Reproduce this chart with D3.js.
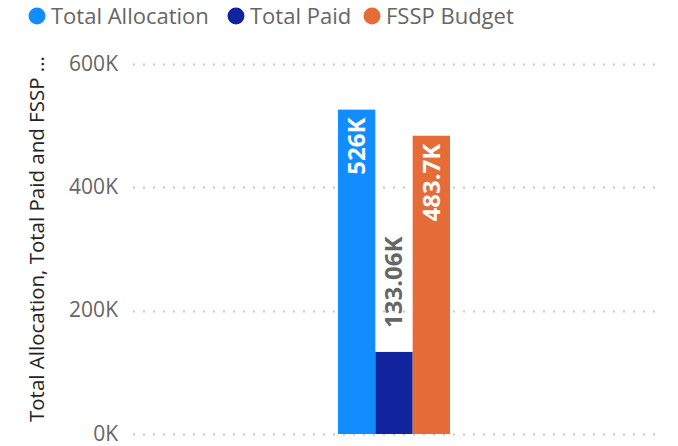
<!DOCTYPE html>
<html>
<head>
<meta charset="utf-8">
<script src="https://cdn.jsdelivr.net/npm/d3@7"></script>
<style>
  body { margin: 0; background: #fff; }
  svg { font-family: "Segoe UI", "Open Sans", sans-serif; }
</style>
</head>
<body>
<div class="chart"></div>
<script>
var categories = [""];
var seriesNames = ["Total Allocation", "Total Paid", "FSSP Budget"];
var seriesValues = [526000, 133060, 483700];
var dataLabels = ["526K", "133.06K", "483.7K"];
var tickValues = [0, 200000, 400000, 600000];
var tickLabels = ["0K", "200K", "400K", "600K"];
var colors = ["#118dff", "#12239e", "#e66c37"];

var width = 678, height = 446;
var margin = {top: 64, right: 23, bottom: 12, left: 133};

var svg = d3.select(".chart").append("svg")
    .attr("width", width)
    .attr("height", height);

// legend
var legendX = [37, 236, 372];
var legend = svg.selectAll(".legend")
    .data(seriesNames)
    .enter().append("g")
      .attr("class", "legend")
      .attr("transform", function(d, i) { return "translate(" + legendX[i] + ",16)"; });
legend.append("circle")
    .attr("r", 8.5)
    .attr("fill", function(d, i) { return colors[i]; });
legend.append("text")
    .attr("x", 14)
    .attr("dy", "0.35em")
    .attr("fill", "#666")
    .style("font-size", "22px")
    .text(function(d) { return d; });

var y = d3.scaleLinear()
    .domain([0, 600000])
    .range([height - margin.bottom, margin.top]);

var x0 = d3.scaleBand()
    .domain(categories)
    .range([margin.left, width - margin.right])
    .paddingOuter(1.83);

var x1 = d3.scaleBand()
    .domain(seriesNames)
    .range([0, x0.bandwidth()]);

// gridlines
svg.selectAll(".grid")
    .data(tickValues)
    .enter().append("line")
      .attr("class", "grid")
      .attr("x1", margin.left)
      .attr("x2", width - margin.right)
      .attr("y1", function(d) { return Math.round(y(d)) + 0.5; })
      .attr("y2", function(d) { return Math.round(y(d)) + 0.5; })
      .attr("stroke", "#c8c8c8")
      .attr("stroke-width", 2)
      .attr("stroke-dasharray", "2,8");

// y axis tick labels
svg.selectAll(".tick-label")
    .data(tickValues)
    .enter().append("text")
      .attr("class", "tick-label")
      .attr("x", 118)
      .attr("y", function(d) { return y(d); })
      .attr("dy", "0.32em")
      .attr("text-anchor", "end")
      .attr("fill", "#666")
      .style("font-size", "21px")
      .text(function(d, i) { return tickLabels[i]; });

// axis title
svg.append("text")
    .attr("transform", "translate(44,239) rotate(-90)")
    .attr("text-anchor", "middle")
    .attr("fill", "#252423")
    .style("font-size", "20.5px")
    .text("Total Allocation, Total Paid and FSSP ...");

// bars
var g = svg.append("g")
    .attr("transform", "translate(" + x0(categories[0]) + ",0)");

g.selectAll(".bar")
    .data(seriesValues)
    .enter().append("rect")
      .attr("class", "bar")
      .attr("x", function(d, i) { return x1(seriesNames[i]); })
      .attr("y", function(d) { return y(d); })
      .attr("width", x1.bandwidth())
      .attr("height", function(d) { return y(0) - y(d); })
      .attr("fill", function(d, i) { return colors[i]; });

// data labels: inside for tall bars, outside for the short one
g.selectAll(".label")
    .data(seriesValues)
    .enter().append("text")
      .attr("class", "label")
      .attr("transform", function(d, i) {
        var cx = x1(seriesNames[i]) + x1.bandwidth() / 2;
        var inside = d > 300000;
        var ty = inside ? y(d) + 8 : y(d) - 24;
        return "translate(" + cx + "," + ty + ") rotate(-90)";
      })
      .attr("text-anchor", function(d) { return d > 300000 ? "end" : "start"; })
      .attr("dy", "0.35em")
      .attr("fill", function(d) { return d > 300000 ? "#fff" : "#666"; })
      .style("font-size", "24px")
      .style("font-weight", "bold")
      .text(function(d, i) { return dataLabels[i]; });
</script>
</body>
</html>
